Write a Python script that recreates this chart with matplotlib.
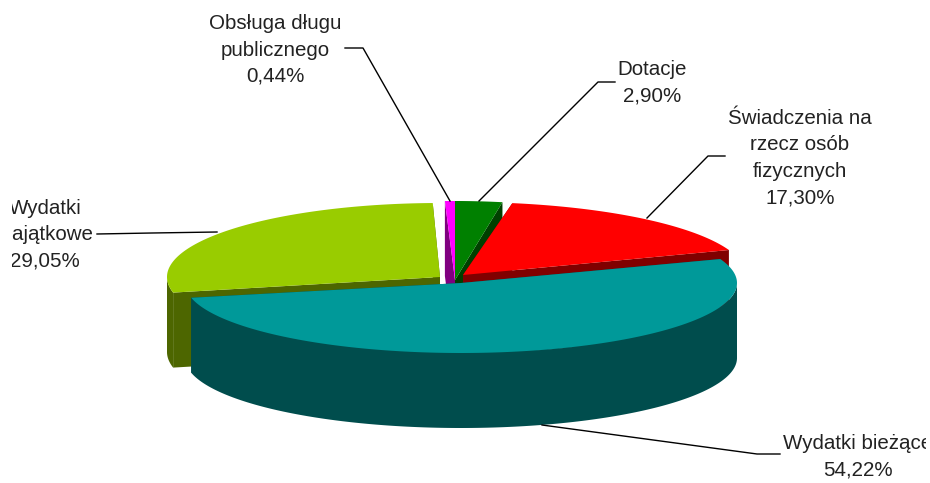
import numpy as np
import matplotlib
matplotlib.use("Agg")
import matplotlib.pyplot as plt
from matplotlib.patches import Polygon
from matplotlib.transforms import Bbox

labels = ["Dotacje", "Świadczenia na\nrzecz osób\nfizycznych", "Wydatki bieżące",
          "Wydatki\nmajątkowe", "Obsługa długu\npublicznego"]
values = [2.90, 17.30, 54.22, 29.05, 0.44]
value_texts = ["2,90%", "17,30%", "54,22%", "29,05%", "0,44%"]
top_colors = ["#008000", "#FF0000", "#009999", "#99CC00", "#FF00FF"]
side_colors = ["#004000", "#800000", "#004D4D", "#4D6600", "#800080"]

# layout (pixels): exploded slice centre and ellipse radii
centres = [(455, 280), (463, 275), (461, 283), (440, 277), (455, 280)]
radii = [(272, 79), (283, 73), (276, 70), (273, 74), (380, 79)]
depth = 75
draw_order = [4, 0, 1, 3, 2]
label_pos = [(652, 83), (800, 158), (858, 457), (45, 235), (275, 50)]
leaders = [[(615, 82), (598, 82), (479, 201)],
           [(725, 156), (708, 156), (647, 218)],
           [(780, 454), (757, 454), (542, 425)],
           [(97, 234), (152, 233), (217, 232)],
           [(345, 48), (363, 48), (450, 201)]]

fig = plt.figure(figsize=(9.3, 4.83), dpi=100)
ax = fig.add_axes([0, 0, 1, 1])
ax.set_xlim(0, 930)
ax.set_ylim(483, 0)
ax.axis("off")

fractions = np.array(values) / sum(values) * 360
ends = np.cumsum(fractions)
starts = ends - fractions


def rim(i, t):
    t = np.radians(t)
    (cx, cy), (rx, ry) = centres[i], radii[i]
    return np.column_stack([cx + rx * np.sin(t), cy - ry * np.cos(t)])


def extrude(pts):
    low = pts + [0, depth]
    return np.vstack([pts, low[::-1]])


for i in draw_order:
    apex = np.array([centres[i]], dtype=float)
    a, b = starts[i], ends[i]
    arc = rim(i, np.linspace(a, b, 200))
    # cut faces
    for p in (arc[0], arc[-1]):
        ax.add_patch(Polygon(extrude(np.vstack([apex, [p]])), fc=side_colors[i], ec="none"))
    # outer wall: the front half of the rim
    lo, hi = max(a, 90), min(b, 270)
    if hi > lo:
        ax.add_patch(Polygon(extrude(rim(i, np.linspace(lo, hi, 200))), fc=side_colors[i], ec="none"))
    # top face
    ax.add_patch(Polygon(np.vstack([apex, arc]), fc=top_colors[i], ec="none"))

for pts in leaders:
    xs, ys = zip(*pts)
    ax.plot(xs, ys, color="black", lw=1)

page = Bbox([[12, 0], [926, 483]])
for lab, val, (x, y) in zip(labels, value_texts, label_pos):
    t = ax.text(x, y, f"{lab}\n{val}", ha="center", va="center", family="Liberation Sans",
                fontsize=14.8, linespacing=1.49, color="#222222")
    t.set_clip_box(page)
    t.set_clip_on(True)

fig.savefig("out.png", dpi=100)
